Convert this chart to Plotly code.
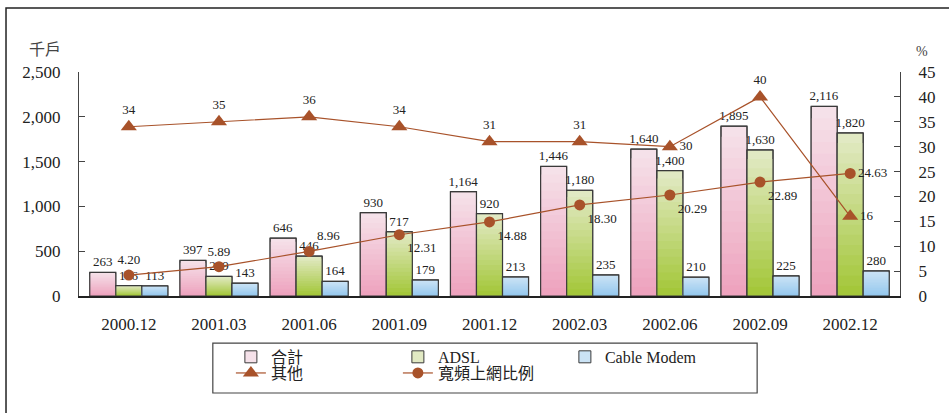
import plotly.graph_objects as go

categories = ["2000.12", "2001.03", "2001.06", "2001.09", "2001.12",
              "2002.03", "2002.06", "2002.09", "2002.12"]
total = [263, 397, 646, 930, 1164, 1446, 1640, 1895, 2116]
adsl = [116, 219, 446, 717, 920, 1180, 1400, 1630, 1820]
cable = [113, 143, 164, 179, 213, 235, 210, 225, 280]
other_pct = [34, 35, 36, 34, 31, 31, 30, 40, 16]
broadband_pct = [4.20, 5.89, 8.96, 12.31, 14.88, 18.30, 20.29, 22.89, 24.63]

other_pos = ["top center"] * 6 + ["middle right", "top center", "middle right"]
bb_pos = ["top center", "top center", "top right"] + ["bottom right"] * 5 + ["middle right"]

FONT = "Liberation Serif, Noto Sans CJK TC, serif"
BROWN = "#a8522a"
OUTLINE = "#3a3a3a"

def hex2rgb(h):
    h = h.lstrip("#")
    return tuple(int(h[i:i + 2], 16) for i in (0, 2, 4))

def mix(c1, c2, f):
    a, b = hex2rgb(c1), hex2rgb(c2)
    return "rgb(%d,%d,%d)" % tuple(round(a[k] + (b[k] - a[k]) * f) for k in range(3))

series = [
    ("合計", total, "#f5e1e9", "#eea3be"),
    ("ADSL", adsl, "#e1e9c3", "#a4c73a"),
    ("Cable Modem", cable, "#cbe3f5", "#95c8ee"),
]

fig = go.Figure()
N = 16
for name, vals, top, bot in series:
    for i in range(N):
        frac = 1 - i / N
        fig.add_trace(go.Bar(
            x=categories, y=[v * frac for v in vals],
            offsetgroup=name, name=name,
            marker=dict(color=mix(top, bot, i / (N - 1)),
                        line=dict(width=1 if i == 0 else 0, color=OUTLINE)),
            showlegend=(i == 0), legend="legend", hoverinfo="skip",
        ))
    fig.add_trace(go.Bar(
        x=categories, y=vals, offsetgroup=name, name=name,
        marker=dict(color="rgba(0,0,0,0)", line=dict(width=1.2, color=OUTLINE)),
        text=vals, texttemplate="%{y:,}", textposition="outside",
        constraintext="none",
        textfont=dict(family=FONT, size=13, color="#222"),
        cliponaxis=False, showlegend=False, hoverinfo="skip",
    ))

fig.add_trace(go.Scatter(
    x=categories, y=other_pct, yaxis="y2", name="其他", mode="lines+markers+text",
    line=dict(color=BROWN, width=1.2),
    marker=dict(symbol="triangle-up", size=14, color=BROWN),
    text=[str(v) for v in other_pct], textposition=other_pos,
    textfont=dict(family=FONT, size=13, color="#222"),
    cliponaxis=False, legend="legend2",
))
fig.add_trace(go.Scatter(
    x=categories, y=broadband_pct, yaxis="y2", name="寬頻上網比例", mode="lines+markers+text",
    line=dict(color=BROWN, width=1.2),
    marker=dict(symbol="circle", size=11, color=BROWN),
    text=["%.2f" % v for v in broadband_pct], textposition=bb_pos,
    textfont=dict(family=FONT, size=13, color="#222"),
    cliponaxis=False, legend="legend2",
))

axis_font = dict(family=FONT, size=17, color="#222")
legend_font = dict(family=FONT, size=16, color="#222")
fig.update_layout(
    width=949, height=413,
    margin=dict(l=79, r=49, t=72, b=117),
    paper_bgcolor="white", plot_bgcolor="white",
    barmode="group", bargap=0.134, bargroupgap=0,
    font=dict(family=FONT, color="#222"),
    hovermode=False,
    xaxis=dict(showline=True, linecolor="#222", linewidth=1.5, ticks="",
               tickfont=axis_font, showgrid=False, ticklabelstandoff=12),
    yaxis=dict(range=[0, 2500], dtick=500, tickformat=",", showline=True,
               linecolor="#444", linewidth=1, ticks="inside", ticklen=6,
               tickcolor="#444", tickfont=axis_font, showgrid=False, zeroline=False,
               ticklabelstandoff=14),
    yaxis2=dict(range=[0, 45], dtick=5, overlaying="y", side="right", showline=True,
                linecolor="#444", linewidth=1, ticks="inside", ticklen=6,
                tickcolor="#444", tickfont=axis_font, showgrid=False, zeroline=False,
                ticklabelstandoff=14),
    legend=dict(orientation="h", x=0.185, xanchor="left", y=-0.272, yanchor="middle",
                entrywidth=122, entrywidthmode="pixels", bgcolor="rgba(0,0,0,0)",
                font=legend_font, traceorder="normal", tracegroupgap=0),
    legend2=dict(orientation="h", x=0.185, xanchor="left", y=-0.344, yanchor="middle",
                 entrywidth=122, entrywidthmode="pixels", bgcolor="rgba(0,0,0,0)",
                 font=legend_font, traceorder="normal"),
    showlegend=True,
    annotations=[
        dict(text="千戶", xref="paper", yref="paper", x=-0.02, y=1.1,
             xanchor="right", yanchor="middle", showarrow=False,
             font=dict(family=FONT, size=16, color="#444")),
        dict(text="%", xref="paper", yref="paper", x=1.017, y=1.09,
             xanchor="left", yanchor="middle", showarrow=False,
             font=dict(family=FONT, size=14, color="#444")),
    ],
    shapes=[
        dict(type="rect", xref="paper", yref="paper", x0=0.163, x1=0.826,
             y0=-0.433, y1=-0.210, line=dict(color="#444", width=1.2)),
        dict(type="rect", xref="paper", yref="paper", x0=-0.0889, x1=1.08,
             y0=-0.6, y1=1.286, line=dict(color="#222", width=1.5)),
    ],
)

fig.write_html("out.html", config={"displayModeBar": False},
               post_script="document.body.style.margin='0';")
